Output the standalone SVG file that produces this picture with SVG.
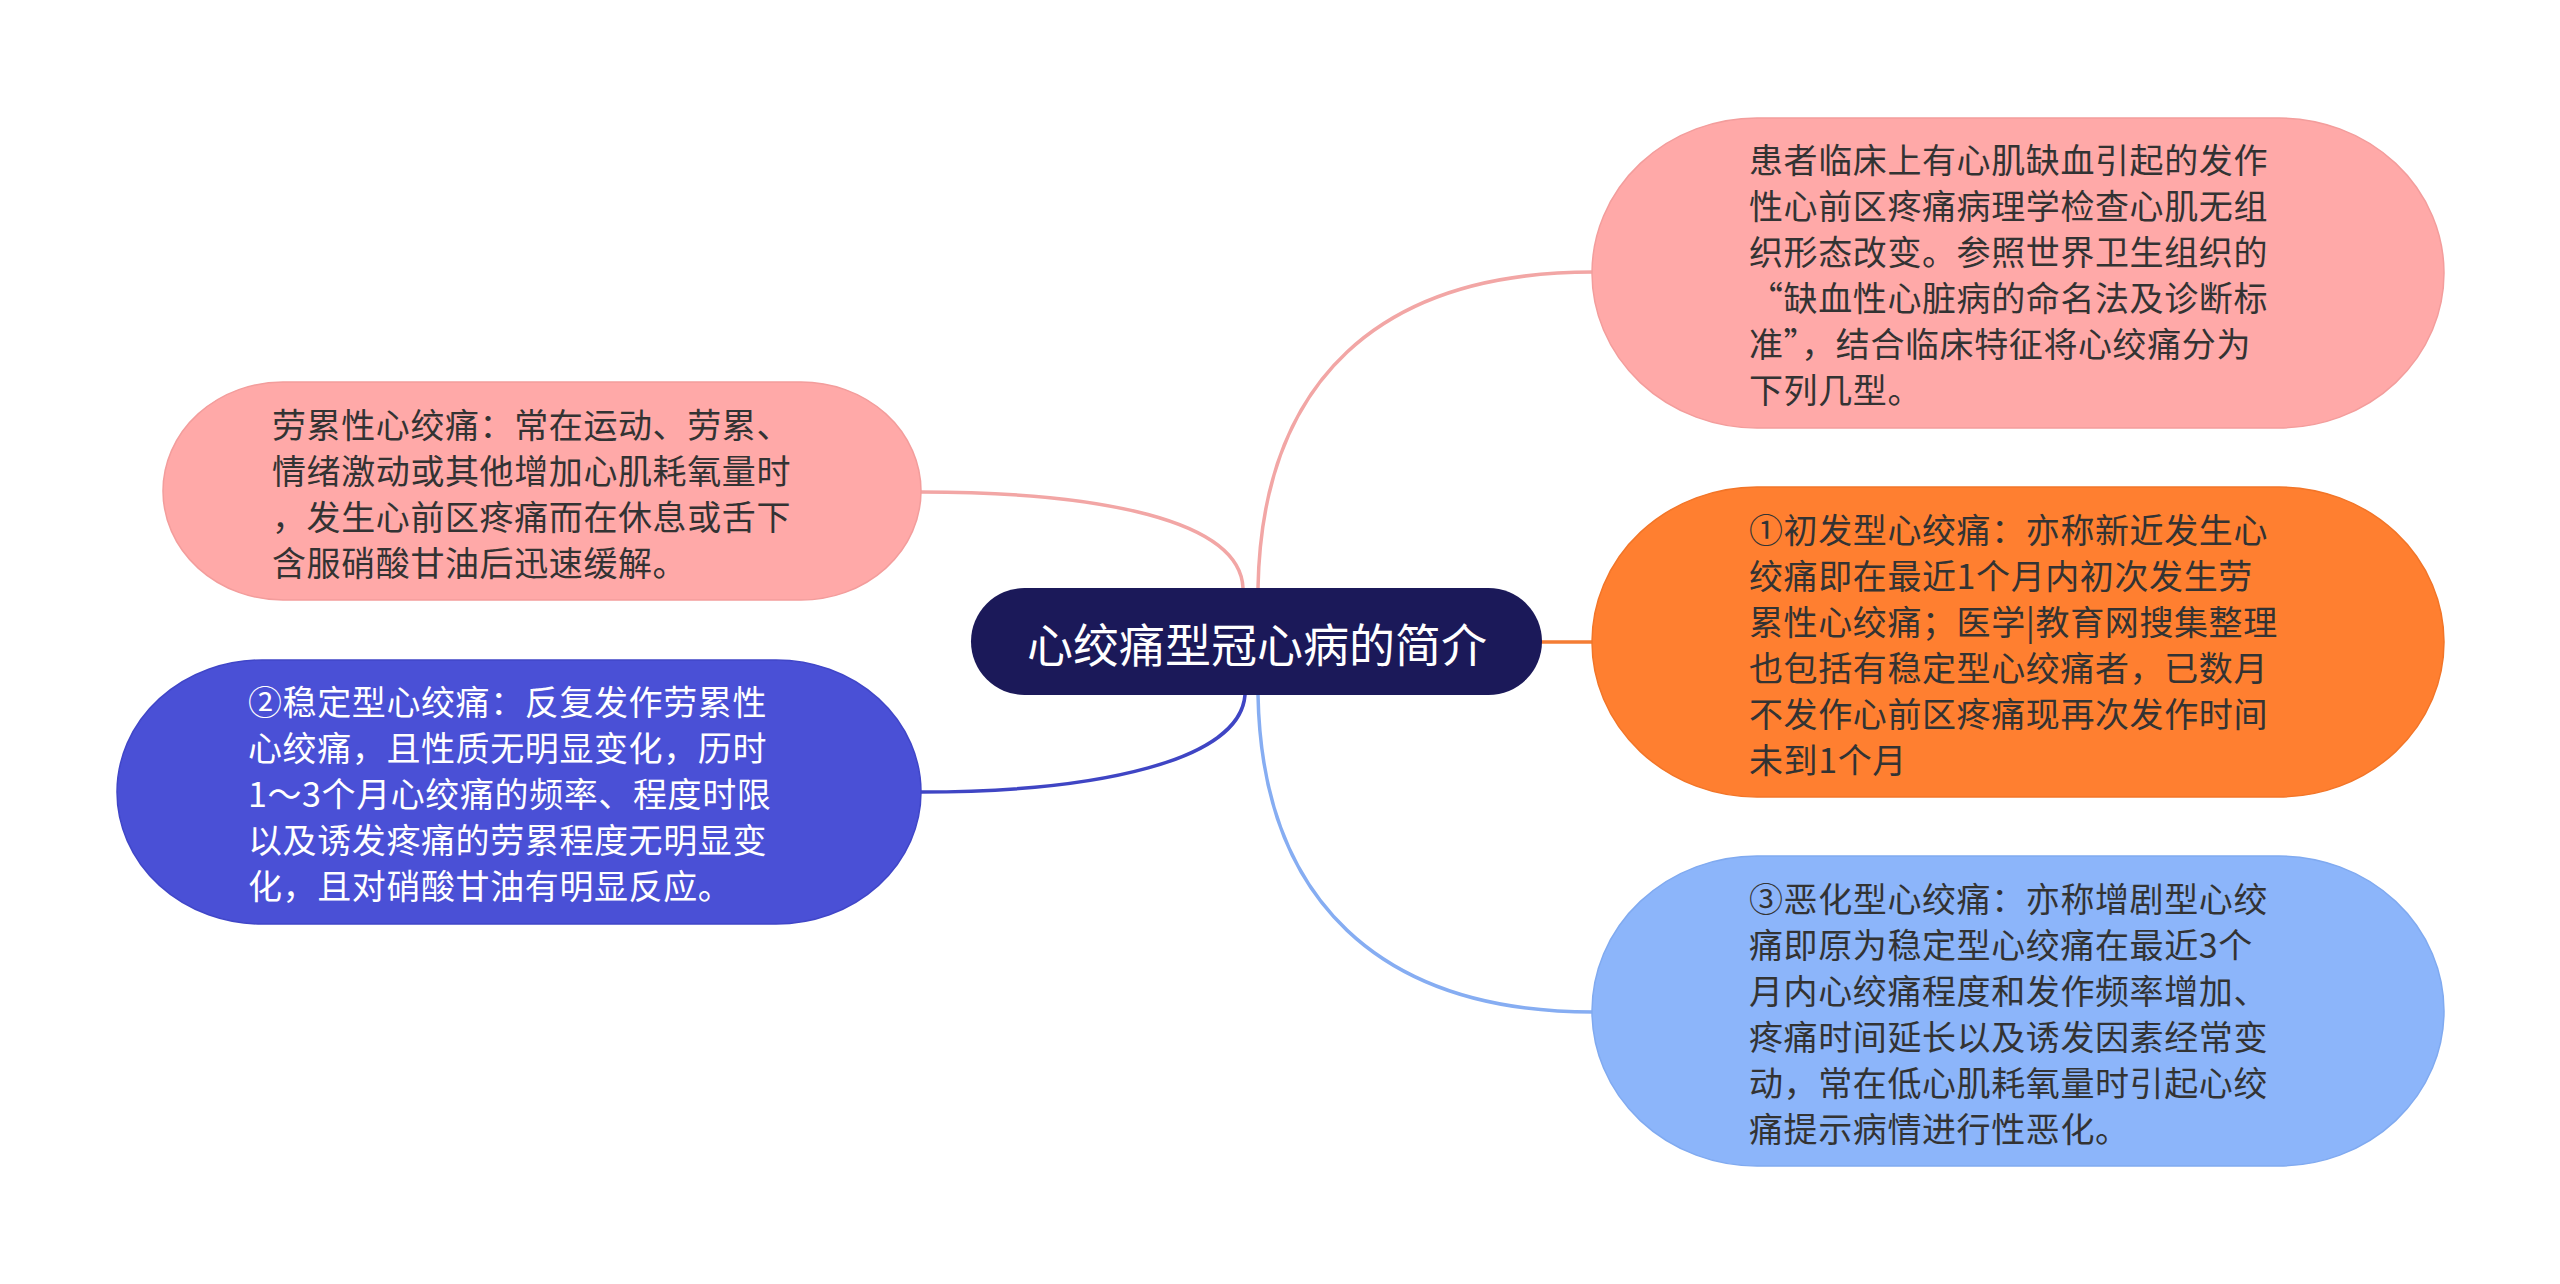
<svg xmlns="http://www.w3.org/2000/svg" width="2560" height="1284" viewBox="0 0 2560 1284">
<style>
.t{font-family:"Noto Sans CJK SC","Noto Sans",sans-serif;font-size:34px;letter-spacing:0.6px;dominant-baseline:central}
.dark{fill:#333333}
.light{fill:#ffffff}
.root{font-family:"Noto Sans CJK SC","Noto Sans",sans-serif;font-size:46px;fill:#ffffff;text-anchor:middle;dominant-baseline:central}
.c{fill:none;stroke-width:3.5;stroke-linecap:round}
</style>
<rect width="2560" height="1284" fill="#ffffff"/>
<g id="connectors">
<path class="c" stroke="#f2a6a5" d="M1258,588 C1262,380 1380,272 1593,272"/>
<path class="c" stroke="#f47d35" stroke-width="4.5" d="M1542,642 L1593,642"/>
<path class="c" stroke="#86adf2" d="M1258,695 C1262,900 1380,1012 1593,1012"/>
<path class="c" stroke="#f2a6a5" d="M921,492 C1100,492 1240,520 1243,588"/>
<path class="c" stroke="#3f45c4" d="M921,792 C1100,792 1240,760 1245,695"/>
</g>
<g id="root">
<rect x="971" y="588" width="571" height="107" rx="53.5" ry="53.5" fill="#1b1959"/>
<text class="root" x="1257" y="642">心绞痛型冠心病的简介</text>
</g>
<g id="node1">
<rect x="1592" y="118" width="852" height="310" rx="165" ry="155" fill="#ffa9a8" stroke="#f39d9c" stroke-width="1.5"/>
<text class="t dark" x="1749" y="158">患者临床上有心肌缺血引起的发作</text>
<text class="t dark" x="1749" y="204">性心前区疼痛病理学检查心肌无组</text>
<text class="t dark" x="1749" y="250">织形态改变。参照世界卫生组织的</text>
<text class="t dark" x="1749" y="296">“缺血性心脏病的命名法及诊断标</text>
<text class="t dark" x="1749" y="342">准”，结合临床特征将心绞痛分为</text>
<text class="t dark" x="1749" y="388">下列几型。</text>
</g>
<g id="node2">
<rect x="1592" y="487" width="852" height="310" rx="165" ry="155" fill="#ff7f30" stroke="#f27528" stroke-width="1.5"/>
<text class="t dark" x="1749" y="528">①初发型心绞痛：亦称新近发生心</text>
<text class="t dark" x="1749" y="574">绞痛即在最近1个月内初次发生劳</text>
<text class="t dark" x="1749" y="620">累性心绞痛；医学|教育网搜集整理</text>
<text class="t dark" x="1749" y="666">也包括有稳定型心绞痛者，已数月</text>
<text class="t dark" x="1749" y="712">不发作心前区疼痛现再次发作时间</text>
<text class="t dark" x="1749" y="758">未到1个月</text>
</g>
<g id="node3">
<rect x="1592" y="856" width="852" height="310" rx="165" ry="155" fill="#8cb5fa" stroke="#80aaf0" stroke-width="1.5"/>
<text class="t dark" x="1749" y="897">③恶化型心绞痛：亦称增剧型心绞</text>
<text class="t dark" x="1749" y="943">痛即原为稳定型心绞痛在最近3个</text>
<text class="t dark" x="1749" y="989">月内心绞痛程度和发作频率增加、</text>
<text class="t dark" x="1749" y="1035">疼痛时间延长以及诱发因素经常变</text>
<text class="t dark" x="1749" y="1081">动，常在低心肌耗氧量时引起心绞</text>
<text class="t dark" x="1749" y="1127">痛提示病情进行性恶化。</text>
</g>
<g id="node4">
<rect x="163" y="382" width="758" height="218" rx="120" ry="109" fill="#ffa9a8" stroke="#f39d9c" stroke-width="1.5"/>
<text class="t dark" x="272" y="423">劳累性心绞痛：常在运动、劳累、</text>
<text class="t dark" x="272" y="469">情绪激动或其他增加心肌耗氧量时</text>
<text class="t dark" x="272" y="515">，发生心前区疼痛而在休息或舌下</text>
<text class="t dark" x="272" y="561">含服硝酸甘油后迅速缓解。</text>
</g>
<g id="node5">
<rect x="117" y="660" width="804" height="264" rx="145" ry="132" fill="#4a50d6" stroke="#4046c8" stroke-width="1.5"/>
<text class="t light" x="248" y="700">②稳定型心绞痛：反复发作劳累性</text>
<text class="t light" x="248" y="746">心绞痛，且性质无明显变化，历时</text>
<text class="t light" x="248" y="792">1～3个月心绞痛的频率、程度时限</text>
<text class="t light" x="248" y="838">以及诱发疼痛的劳累程度无明显变</text>
<text class="t light" x="248" y="884">化，且对硝酸甘油有明显反应。</text>
</g>
</svg>
